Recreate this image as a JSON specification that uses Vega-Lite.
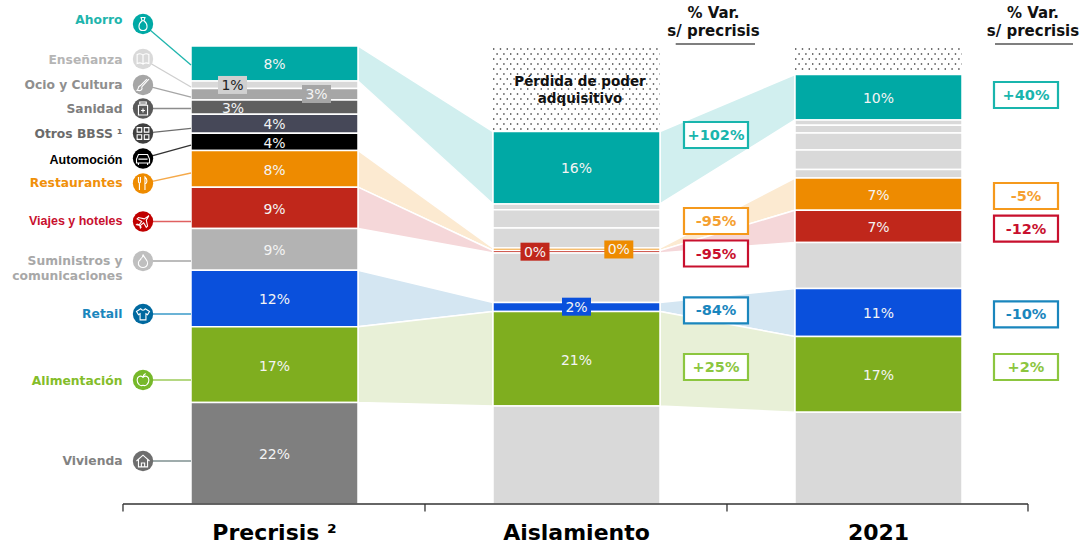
{
"$schema":"https://vega.github.io/schema/vega-lite/v6.json",
"width":1089,"height":504,
"autosize":{"type":"none"},
"padding":{"left":0,"top":0,"right":0,"bottom":45},
"background":"white",
"config":{"view":{"stroke":null},"text":{"font":"DejaVu Sans"}},
"datasets":{
"categorias":[
{"cat":"Ahorro","etiqueta":"Ahorro","yIcono":104.80,"yBarra":95.85,"yTexto":105.68},
{"cat":"Enseñanza","etiqueta":"Enseñanza","yIcono":97.16,"yBarra":91.05,"yTexto":96.94},
{"cat":"Ocio y Cultura","etiqueta":"Ocio y Cultura","yIcono":91.49,"yBarra":88.86,"yTexto":91.49},
{"cat":"Sanidad","etiqueta":"Sanidad","yIcono":86.35,"yBarra":86.35,"yTexto":86.14},
{"cat":"Otros BBSS","etiqueta":"Otros BBSS ¹","yIcono":80.90,"yBarra":81.99,"yTexto":80.79},
{"cat":"Automoción","etiqueta":"Automoción","yIcono":75.44,"yBarra":78.38,"yTexto":75.11},
{"cat":"Restaurantes","etiqueta":"Restaurantes","yIcono":69.98,"yBarra":72.27,"yTexto":69.98},
{"cat":"Viajes y hoteles","etiqueta":"Viajes y hoteles","yIcono":61.68,"yBarra":61.68,"yTexto":61.68},
{"cat":"Suministros","etiqueta":"Suministros y\ncomunicaciones","yIcono":53.06,"yBarra":53.06,"yTexto":52.95},
{"cat":"Retail","etiqueta":"Retail","yIcono":41.48,"yBarra":41.48,"yTexto":41.38},
{"cat":"Alimentación","etiqueta":"Alimentación","yIcono":27.07,"yBarra":27.07,"yTexto":26.96},
{"cat":"Vivienda","etiqueta":"Vivienda","yIcono":9.39,"yBarra":9.39,"yTexto":9.39}
],
"segmentos":[
{"col":1,"cat":"Ahorro","y0":92.36,"y1":100},
{"col":1,"cat":"Enseñanza","y0":90.72,"y1":92.36},
{"col":1,"cat":"Ocio y Cultura","y0":88.21,"y1":90.72},
{"col":1,"cat":"Sanidad","y0":85.09,"y1":88.21},
{"col":1,"cat":"Otros BBSS","y0":80.94,"y1":85.09},
{"col":1,"cat":"Automoción","y0":77.18,"y1":80.94},
{"col":1,"cat":"Restaurantes","y0":69.17,"y1":77.18},
{"col":1,"cat":"Viajes y hoteles","y0":60.15,"y1":69.17},
{"col":1,"cat":"Suministros","y0":51.05,"y1":60.15},
{"col":1,"cat":"Retail","y0":38.71,"y1":51.05},
{"col":1,"cat":"Alimentación","y0":22.16,"y1":38.71},
{"col":1,"cat":"Vivienda","y0":0,"y1":22.16},
{"col":2,"cat":"Ahorro","y0":65.50,"y1":81.33},
{"col":2,"cat":"Resto","y0":64.24,"y1":65.50},
{"col":2,"cat":"Resto","y0":60.26,"y1":64.24},
{"col":2,"cat":"Resto","y0":55.90,"y1":60.26},
{"col":2,"cat":"Restaurantes","y0":55.35,"y1":55.90},
{"col":2,"cat":"Viajes y hoteles","y0":54.80,"y1":55.35},
{"col":2,"cat":"Resto","y0":44.00,"y1":54.80},
{"col":2,"cat":"Retail","y0":42.03,"y1":44.00},
{"col":2,"cat":"Alimentación","y0":21.40,"y1":42.03},
{"col":2,"cat":"Resto","y0":0,"y1":21.40},
{"col":3,"cat":"Ahorro","y0":83.84,"y1":93.78},
{"col":3,"cat":"Resto","y0":82.69,"y1":83.84},
{"col":3,"cat":"Resto","y0":81.00,"y1":82.69},
{"col":3,"cat":"Resto","y0":77.29,"y1":81.00},
{"col":3,"cat":"Resto","y0":73.03,"y1":77.29},
{"col":3,"cat":"Resto","y0":71.18,"y1":73.03},
{"col":3,"cat":"Restaurantes","y0":64.13,"y1":71.18},
{"col":3,"cat":"Viajes y hoteles","y0":57.12,"y1":64.13},
{"col":3,"cat":"Resto","y0":47.05,"y1":57.12},
{"col":3,"cat":"Retail","y0":36.57,"y1":47.05},
{"col":3,"cat":"Alimentación","y0":20.04,"y1":36.57},
{"col":3,"cat":"Resto","y0":0,"y1":20.04}
],
"flujos":[
{"flujo":"Ahorro a","cat":"Ahorro","x":1.2765,"y0":92.36,"y1":100},
{"flujo":"Ahorro a","cat":"Ahorro","x":1.7235,"y0":65.50,"y1":81.33},
{"flujo":"Ahorro b","cat":"Ahorro","x":2.2765,"y0":65.50,"y1":81.33},
{"flujo":"Ahorro b","cat":"Ahorro","x":2.7235,"y0":83.84,"y1":93.78},
{"flujo":"Rest a","cat":"Restaurantes","x":1.2765,"y0":69.17,"y1":77.18},
{"flujo":"Rest a","cat":"Restaurantes","x":1.7235,"y0":55.35,"y1":55.90},
{"flujo":"Rest b","cat":"Restaurantes","x":2.2765,"y0":55.35,"y1":55.90},
{"flujo":"Rest b","cat":"Restaurantes","x":2.7235,"y0":64.13,"y1":71.18},
{"flujo":"Viajes a","cat":"Viajes y hoteles","x":1.2765,"y0":60.15,"y1":69.17},
{"flujo":"Viajes a","cat":"Viajes y hoteles","x":1.7235,"y0":54.80,"y1":55.35},
{"flujo":"Viajes b","cat":"Viajes y hoteles","x":2.2765,"y0":54.80,"y1":55.35},
{"flujo":"Viajes b","cat":"Viajes y hoteles","x":2.7235,"y0":57.12,"y1":64.13},
{"flujo":"Retail a","cat":"Retail","x":1.2765,"y0":38.71,"y1":51.05},
{"flujo":"Retail a","cat":"Retail","x":1.7235,"y0":42.03,"y1":44.00},
{"flujo":"Retail b","cat":"Retail","x":2.2765,"y0":42.03,"y1":44.00},
{"flujo":"Retail b","cat":"Retail","x":2.7235,"y0":36.57,"y1":47.05},
{"flujo":"Alim a","cat":"Alimentación","x":1.2765,"y0":22.16,"y1":38.71},
{"flujo":"Alim a","cat":"Alimentación","x":1.7235,"y0":21.40,"y1":42.03},
{"flujo":"Alim b","cat":"Alimentación","x":2.2765,"y0":21.40,"y1":42.03},
{"flujo":"Alim b","cat":"Alimentación","x":2.7235,"y0":20.04,"y1":36.57}
],
"etiquetas":[
{"x":1,"y":96.07,"t":"8%","cat":"Ahorro"},
{"x":0.8609,"y":91.49,"t":"1%","cat":"Enseñanza","caja":"Enseñanza"},
{"x":1.1391,"y":89.52,"t":"3%","cat":"Ocio y Cultura","caja":"Ocio y Cultura"},
{"x":0.8626,"y":86.46,"t":"3%","cat":"Sanidad"},
{"x":1,"y":82.86,"t":"4%","cat":"Otros BBSS"},
{"x":1,"y":78.82,"t":"4%","cat":"Automoción"},
{"x":1,"y":73.03,"t":"8%","cat":"Restaurantes"},
{"x":1,"y":64.48,"t":"9%","cat":"Viajes y hoteles"},
{"x":1,"y":55.46,"t":"9%","cat":"Suministros"},
{"x":1,"y":44.65,"t":"12%","cat":"Retail"},
{"x":1,"y":30.20,"t":"17%","cat":"Alimentación"},
{"x":1,"y":10.98,"t":"22%","cat":"Vivienda"},
{"x":2,"y":73.36,"t":"16%","cat":"Ahorro"},
{"x":1.8626,"y":55.09,"t":"0%","cat":"Viajes y hoteles","caja":"Viajes y hoteles"},
{"x":2.1401,"y":55.57,"t":"0%","cat":"Restaurantes","caja":"Restaurantes"},
{"x":2,"y":43.08,"t":"2%","cat":"Retail","caja":"Retail"},
{"x":2,"y":31.44,"t":"21%","cat":"Alimentación"},
{"x":3,"y":88.65,"t":"10%","cat":"Ahorro"},
{"x":3,"y":67.47,"t":"7%","cat":"Restaurantes"},
{"x":3,"y":60.48,"t":"7%","cat":"Viajes y hoteles"},
{"x":3,"y":41.70,"t":"11%","cat":"Retail"},
{"x":3,"y":28.17,"t":"17%","cat":"Alimentación"}
],
"variaciones":[
{"x":2.4619,"y":80.57,"t":"+102%","cat":"Ahorro"},
{"x":2.4619,"y":61.79,"t":"-95%","cat":"Restaurantes"},
{"x":2.4619,"y":54.69,"t":"-95%","cat":"Viajes y hoteles"},
{"x":2.4619,"y":42.29,"t":"-84%","cat":"Retail"},
{"x":2.4619,"y":29.91,"t":"+25%","cat":"Alimentación"},
{"x":3.4884,"y":89.30,"t":"+40%","cat":"Ahorro"},
{"x":3.4884,"y":67.25,"t":"-5%","cat":"Restaurantes"},
{"x":3.4884,"y":60.11,"t":"-12%","cat":"Viajes y hoteles"},
{"x":3.4884,"y":41.38,"t":"-10%","cat":"Retail"},
{"x":3.4884,"y":29.91,"t":"+2%","cat":"Alimentación"}
],
"rotulos":[
{"x":2.4536,"y":107.27,"t":"% Var."},
{"x":2.4536,"y":103.34,"t":"s/ precrisis"},
{"x":3.5116,"y":107.27,"t":"% Var."},
{"x":3.5116,"y":103.34,"t":"s/ precrisis"}
],
"perdida":[
{"x":2.0116,"y":92.14,"t":"Pérdida de poder"},
{"x":2.0116,"y":88.43,"t":"adquisitivo"}
],
"columnas":[
{"x":1,"t":"Precrisis ²"},
{"x":2,"t":"Aislamiento"},
{"x":3,"t":"2021"}
],
"subrayados":[
{"x0":2.3285,"x1":2.5911,"y":100.44},
{"x0":3.3858,"x1":3.6440,"y":100.44}
],
"marcas":[{"x":0.4983},{"x":1.4983},{"x":2.4983},{"x":3.4950}],
"puntos":[
{"x0":1.7235,"x1":2.2765,"y":99.34,"fila":0},{"x0":1.7235,"x1":2.2765,"y":98.25,"fila":1},
{"x0":1.7235,"x1":2.2765,"y":97.16,"fila":0},{"x0":1.7235,"x1":2.2765,"y":96.07,"fila":1},
{"x0":1.7235,"x1":2.2765,"y":94.98,"fila":0},{"x0":1.7235,"x1":2.2765,"y":93.89,"fila":1},
{"x0":1.7235,"x1":2.2765,"y":92.80,"fila":0},{"x0":1.7235,"x1":2.2765,"y":91.70,"fila":1},
{"x0":1.7235,"x1":2.2765,"y":90.61,"fila":0},{"x0":1.7235,"x1":2.2765,"y":89.52,"fila":1},
{"x0":1.7235,"x1":2.2765,"y":88.43,"fila":0},{"x0":1.7235,"x1":2.2765,"y":87.34,"fila":1},
{"x0":1.7235,"x1":2.2765,"y":86.24,"fila":0},{"x0":1.7235,"x1":2.2765,"y":85.15,"fila":1},
{"x0":1.7235,"x1":2.2765,"y":84.06,"fila":0},{"x0":1.7235,"x1":2.2765,"y":82.97,"fila":1},
{"x0":1.7235,"x1":2.2765,"y":81.88,"fila":0},
{"x0":2.7235,"x1":3.2765,"y":99.34,"fila":0},{"x0":2.7235,"x1":3.2765,"y":98.25,"fila":1},
{"x0":2.7235,"x1":3.2765,"y":97.16,"fila":0},{"x0":2.7235,"x1":3.2765,"y":96.07,"fila":1},
{"x0":2.7235,"x1":3.2765,"y":94.98,"fila":0}
]
},
"layer":[
{"data":{"name":"flujos"},
 "mark":{"type":"area","orient":"vertical","fillOpacity":0.18,"stroke":"white","strokeWidth":1.5},
 "encoding":{
  "x":{"field":"x","type":"quantitative","scale":{"domain":[0.09106,3.69702],"padding":0},"axis":null},
  "y":{"field":"y0","type":"quantitative","scale":{"domain":[0,110.04]},"axis":null,"stack":null},
  "y2":{"field":"y1"},
  "detail":{"field":"flujo"},
  "color":{"field":"cat","type":"nominal","legend":null,"scale":{"domain":["Ahorro","Restaurantes","Viajes y hoteles","Retail","Alimentación"],"range":["#00a9a5","#ee8b00","#c8202a","#0f75b5","#7fae1f"]}}
 }},
{"data":{"name":"puntos"},"transform":[{"filter":"datum.fila==0"}],
 "mark":{"type":"rule","color":"#444444","strokeWidth":1.4,"strokeDash":[1.4,5.4]},
 "encoding":{
  "x":{"field":"x0","type":"quantitative","scale":{"domain":[0.09106,3.69702],"padding":0},"axis":null},
  "x2":{"field":"x1"},
  "y":{"field":"y","type":"quantitative","scale":{"domain":[0,110.04]},"axis":null}
 }},
{"data":{"name":"puntos"},"transform":[{"filter":"datum.fila==1"}],
 "mark":{"type":"rule","color":"#444444","strokeWidth":1.4,"strokeDash":[1.4,5.4],"strokeDashOffset":3.4},
 "encoding":{
  "x":{"field":"x0","type":"quantitative","scale":{"domain":[0.09106,3.69702],"padding":0},"axis":null},
  "x2":{"field":"x1"},
  "y":{"field":"y","type":"quantitative","scale":{"domain":[0,110.04]},"axis":null}
 }},
{"data":{"name":"segmentos"},
 "mark":{"type":"bar","width":167,"stroke":"white","strokeWidth":1.5},
 "encoding":{
  "x":{"field":"col","type":"quantitative","scale":{"domain":[0.09106,3.69702],"padding":0},"axis":null},
  "y":{"field":"y1","type":"quantitative","scale":{"domain":[0,110.04]},"axis":null,"stack":null},
  "y2":{"field":"y0"},
  "color":{"field":"cat","type":"nominal","legend":null,"scale":{"domain":["Ahorro","Enseñanza","Ocio y Cultura","Sanidad","Otros BBSS","Automoción","Restaurantes","Viajes y hoteles","Suministros","Retail","Alimentación","Vivienda","Resto"],"range":["#00a9a5","#d9d9d9","#a6a6a6","#5f5f5f","#464858","#000000","#ee8b00","#c0271b","#b3b3b3","#0a50dc","#7fae1f","#7f7f7f","#d9d9d9"]}}
 }},
{"data":{"name":"categorias"},
 "mark":{"type":"rule","strokeWidth":1.3},
 "encoding":{
  "x":{"datum":0.5646,"type":"quantitative","scale":{"domain":[0.09106,3.69702],"padding":0},"axis":null},
  "x2":{"datum":0.7235},
  "y":{"field":"yIcono","type":"quantitative","scale":{"domain":[0,110.04]},"axis":null},
  "y2":{"field":"yBarra"},
  "color":{"field":"cat","type":"nominal","legend":null,"scale":{"domain":["Ahorro","Enseñanza","Ocio y Cultura","Sanidad","Otros BBSS","Automoción","Restaurantes","Viajes y hoteles","Suministros","Retail","Alimentación","Vivienda"],"range":["#1fb5ad","#cfcfcf","#a6a6a6","#8c8c8c","#6e6e6e","#333333","#f5a94a","#e06060","#a6a6a6","#3a9ac9","#9ccb5a","#7f9090"]}}
 }},
{"data":{"name":"categorias"},
 "mark":{"type":"point","filled":true,"shape":"circle","size":415,"opacity":1},
 "encoding":{
  "x":{"datum":0.5646,"type":"quantitative","scale":{"domain":[0.09106,3.69702],"padding":0},"axis":null},
  "y":{"field":"yIcono","type":"quantitative","scale":{"domain":[0,110.04]},"axis":null},
  "color":{"field":"cat","type":"nominal","legend":null,"scale":{"domain":["Ahorro","Enseñanza","Ocio y Cultura","Sanidad","Otros BBSS","Automoción","Restaurantes","Viajes y hoteles","Suministros","Retail","Alimentación","Vivienda"],"range":["#00a9a5","#d9d9d9","#a6a6a6","#595959","#404040","#000000","#ee8b00","#c00000","#bfbfbf","#00699f","#76b82a","#6e6e6e"]}}
 }},
{"data":{"name":"categorias"},
 "mark":{"type":"point","filled":false,"size":170,"stroke":"white","strokeWidth":1.1,"opacity":1},
 "encoding":{
  "x":{"datum":0.5646,"type":"quantitative","scale":{"domain":[0.09106,3.69702],"padding":0},"axis":null},
  "y":{"field":"yIcono","type":"quantitative","scale":{"domain":[0,110.04]},"axis":null},
  "shape":{"field":"cat","type":"nominal","legend":null,"scale":{"domain":["Ahorro","Enseñanza","Ocio y Cultura","Sanidad","Otros BBSS","Automoción","Restaurantes","Viajes y hoteles","Suministros","Retail","Alimentación","Vivienda"],"range":[
   "M-0.3,-1L0.3,-1L0.15,-0.5L-0.15,-0.5Z M-0.15,-0.5C-0.8,0 -0.8,1 0,1C0.8,1 0.8,0 0.15,-0.5Z",
   "M0,-0.6C-0.3,-0.9 -0.7,-0.8 -0.9,-0.7L-0.9,0.7C-0.7,0.6 -0.3,0.5 0,0.8C0.3,0.5 0.7,0.6 0.9,0.7L0.9,-0.7C0.7,-0.8 0.3,-0.9 0,-0.6Z M0,-0.6L0,0.8",
   "M0.9,-0.9L-0.2,0.3 M0.6,-0.9L-0.4,0.1 M-0.4,0.1C-0.9,0.2 -0.6,0.7 -0.9,0.8C-0.4,1 0,0.7 -0.2,0.3",
   "M-0.5,-1L0.5,-1L0.5,-0.7L-0.5,-0.7Z M-0.7,-0.5L0.7,-0.5L0.7,1L-0.7,1Z M0,0L0,0.6 M-0.3,0.3L0.3,0.3",
   "M-0.9,-0.9L-0.2,-0.9L-0.2,-0.2L-0.9,-0.2Z M0.2,-0.9L0.9,-0.9L0.9,-0.2L0.2,-0.2Z M-0.9,0.2L-0.2,0.2L-0.2,0.9L-0.9,0.9Z M0.2,0.2L0.9,0.2L0.9,0.9L0.2,0.9Z",
   "M-1,0.1L-0.7,-0.6L0.7,-0.6L1,0.1L1,0.7L-1,0.7Z M-0.7,0.1L0.7,0.1 M-0.7,0.7L-0.7,1 M0.7,0.7L0.7,1",
   "M-0.7,-1L-0.7,-0.3C-0.7,0 -0.4,0 -0.4,-0.3L-0.4,-1 M-0.55,-0.1L-0.55,1 M0.3,1L0.3,-1C0.7,-0.7 0.7,0 0.3,0.1",
   "M0.9,-0.9L0.2,-0.4L-0.7,-0.6L-0.9,-0.4L-0.2,0L-0.6,0.5L-0.9,0.4L-1,0.5L-0.5,0.6L-0.4,1L-0.3,0.9L-0.4,0.6L0.1,0.2L0.5,0.9L0.7,0.7L0.5,-0.2Z",
   "M0,-1C0.2,-0.4 0.8,-0.1 0.7,0.4C0.6,0.9 0.2,1 0,1C-0.4,1 -0.8,0.7 -0.7,0.2C-0.6,-0.2 -0.3,-0.1 -0.3,-0.4C-0.1,-0.5 0,-0.7 0,-1Z",
   "M-0.35,-0.8L-1,-0.4L-0.7,0.1L-0.45,-0.05L-0.45,0.9L0.45,0.9L0.45,-0.05L0.7,0.1L1,-0.4L0.35,-0.8C0.2,-0.5 -0.2,-0.5 -0.35,-0.8Z",
   "M0,-0.4C-0.4,-0.8 -0.9,-0.5 -0.9,0C-0.9,0.6 -0.4,1 0,0.8C0.4,1 0.9,0.6 0.9,0C0.9,-0.5 0.4,-0.8 0,-0.4Z M0,-0.4C0,-0.7 0.2,-0.9 0.4,-1",
   "M-1,0L0,-0.9L1,0 M-0.7,-0.2L-0.7,0.9L0.7,0.9L0.7,-0.2 M-0.25,0.9L-0.25,0.3L0.25,0.3L0.25,0.9"
  ]}}
 }},
{"data":{"name":"etiquetas"},"transform":[{"filter":"isValid(datum.caja)"}],
 "mark":{"type":"rect","width":29,"height":18},
 "encoding":{
  "x":{"field":"x","type":"quantitative","scale":{"domain":[0.09106,3.69702],"padding":0},"axis":null},
  "y":{"field":"y","type":"quantitative","scale":{"domain":[0,110.04]},"axis":null},
  "color":{"field":"caja","type":"nominal","legend":null,"scale":{"domain":["Enseñanza","Ocio y Cultura","Viajes y hoteles","Restaurantes","Retail"],"range":["#d0d0d0","#a6a6a6","#c0271b","#ee8b00","#0a50dc"]}}
 }},
{"data":{"name":"etiquetas"},
 "mark":{"type":"text","fontSize":14,"font":"DejaVu Sans","baseline":"middle","align":"center","dy":1},
 "encoding":{
  "x":{"field":"x","type":"quantitative","scale":{"domain":[0.09106,3.69702],"padding":0},"axis":null},
  "y":{"field":"y","type":"quantitative","scale":{"domain":[0,110.04]},"axis":null},
  "text":{"field":"t"},
  "color":{"condition":{"test":"datum.cat=='Enseñanza'","value":"#222222"},"value":"#f4f4f4"}
 }},
{"data":{"name":"categorias"},"transform":[{"filter":"datum.cat!='Automoción' && datum.cat!='Viajes y hoteles'"}],
 "mark":{"type":"text","fontSize":12.3,"font":"DejaVu Sans","fontWeight":"bold","align":"right","baseline":"middle","lineBreak":"\n","lineHeight":15},
 "encoding":{
  "x":{"datum":0.4967,"type":"quantitative","scale":{"domain":[0.09106,3.69702],"padding":0},"axis":null},
  "y":{"field":"yTexto","type":"quantitative","scale":{"domain":[0,110.04]},"axis":null},
  "text":{"field":"etiqueta"},
  "color":{"field":"cat","type":"nominal","legend":null,"scale":{"domain":["Ahorro","Enseñanza","Ocio y Cultura","Sanidad","Otros BBSS","Restaurantes","Suministros","Retail","Alimentación","Vivienda"],"range":["#1fb5ad","#b5b5b5","#8f8f8f","#7f7f7f","#6b6b6b","#f0900a","#a8a8a8","#1a86bd","#84bd2a","#828282"]}}
 }},
{"data":{"name":"categorias"},"transform":[{"filter":"datum.cat=='Automoción' || datum.cat=='Viajes y hoteles'"}],
 "mark":{"type":"text","fontSize":12.5,"font":"Liberation Sans","fontWeight":"bold","align":"right","baseline":"middle"},
 "encoding":{
  "x":{"datum":0.4967,"type":"quantitative","scale":{"domain":[0.09106,3.69702],"padding":0},"axis":null},
  "y":{"field":"yTexto","type":"quantitative","scale":{"domain":[0,110.04]},"axis":null},
  "text":{"field":"etiqueta"},
  "color":{"field":"cat","type":"nominal","legend":null,"scale":{"domain":["Automoción","Viajes y hoteles"],"range":["#000000","#c8102e"]}}
 }},
{"data":{"name":"perdida"},
 "mark":{"type":"text","fontSize":13.5,"font":"DejaVu Sans","fontWeight":"bold","align":"center","baseline":"middle","color":"#111111"},
 "encoding":{
  "x":{"field":"x","type":"quantitative","scale":{"domain":[0.09106,3.69702],"padding":0},"axis":null},
  "y":{"field":"y","type":"quantitative","scale":{"domain":[0,110.04]},"axis":null},
  "text":{"field":"t"}
 }},
{"data":{"name":"variaciones"},
 "mark":{"type":"rect","width":64,"height":26,"fill":"white","strokeWidth":2.2},
 "encoding":{
  "x":{"field":"x","type":"quantitative","scale":{"domain":[0.09106,3.69702],"padding":0},"axis":null},
  "y":{"field":"y","type":"quantitative","scale":{"domain":[0,110.04]},"axis":null},
  "stroke":{"field":"cat","type":"nominal","legend":null,"scale":{"domain":["Ahorro","Restaurantes","Viajes y hoteles","Retail","Alimentación"],"range":["#19b5ad","#f5991c","#c8102e","#1a86bd","#8cc63f"]}}
 }},
{"data":{"name":"variaciones"},
 "mark":{"type":"text","fontSize":14.5,"font":"DejaVu Sans","fontWeight":"bold","align":"center","baseline":"middle","dy":1},
 "encoding":{
  "x":{"field":"x","type":"quantitative","scale":{"domain":[0.09106,3.69702],"padding":0},"axis":null},
  "y":{"field":"y","type":"quantitative","scale":{"domain":[0,110.04]},"axis":null},
  "text":{"field":"t"},
  "color":{"field":"cat","type":"nominal","legend":null,"scale":{"domain":["Ahorro","Restaurantes","Viajes y hoteles","Retail","Alimentación"],"range":["#19b5ad","#f5a030","#c8102e","#1a86bd","#8cc63f"]}}
 }},
{"data":{"name":"rotulos"},
 "mark":{"type":"text","fontSize":15,"font":"DejaVu Sans","fontWeight":"bold","align":"center","baseline":"middle","color":"#111111"},
 "encoding":{
  "x":{"field":"x","type":"quantitative","scale":{"domain":[0.09106,3.69702],"padding":0},"axis":null},
  "y":{"field":"y","type":"quantitative","scale":{"domain":[0,110.04]},"axis":null},
  "text":{"field":"t"}
 }},
{"data":{"name":"subrayados"},
 "mark":{"type":"rule","color":"#555555","strokeWidth":1.5},
 "encoding":{
  "x":{"field":"x0","type":"quantitative","scale":{"domain":[0.09106,3.69702],"padding":0},"axis":null},
  "x2":{"field":"x1"},
  "y":{"field":"y","type":"quantitative","scale":{"domain":[0,110.04]},"axis":null}
 }},
{"data":{"values":[{"x0":0.4983,"x1":3.4950}]},
 "mark":{"type":"rule","color":"#333333","strokeWidth":1.3},
 "encoding":{
  "x":{"field":"x0","type":"quantitative","scale":{"domain":[0.09106,3.69702],"padding":0},"axis":null},
  "x2":{"field":"x1"},
  "y":{"datum":0,"type":"quantitative","scale":{"domain":[0,110.04]},"axis":null}
 }},
{"data":{"name":"marcas"},
 "mark":{"type":"rule","color":"#333333","strokeWidth":1.3},
 "encoding":{
  "x":{"field":"x","type":"quantitative","scale":{"domain":[0.09106,3.69702],"padding":0},"axis":null},
  "y":{"datum":0,"type":"quantitative","scale":{"domain":[0,110.04]},"axis":null},
  "y2":{"datum":-1.64}
 }},
{"data":{"name":"columnas"},
 "mark":{"type":"text","fontSize":22,"font":"DejaVu Sans","fontWeight":"bold","align":"center","baseline":"middle","color":"#000000"},
 "encoding":{
  "x":{"field":"x","type":"quantitative","scale":{"domain":[0.09106,3.69702],"padding":0},"axis":null},
  "y":{"datum":-6.33,"type":"quantitative","scale":{"domain":[0,110.04]},"axis":null},
  "text":{"field":"t"}
 }}
],
"resolve":{"scale":{"color":"independent","stroke":"independent","shape":"independent"}}
}
